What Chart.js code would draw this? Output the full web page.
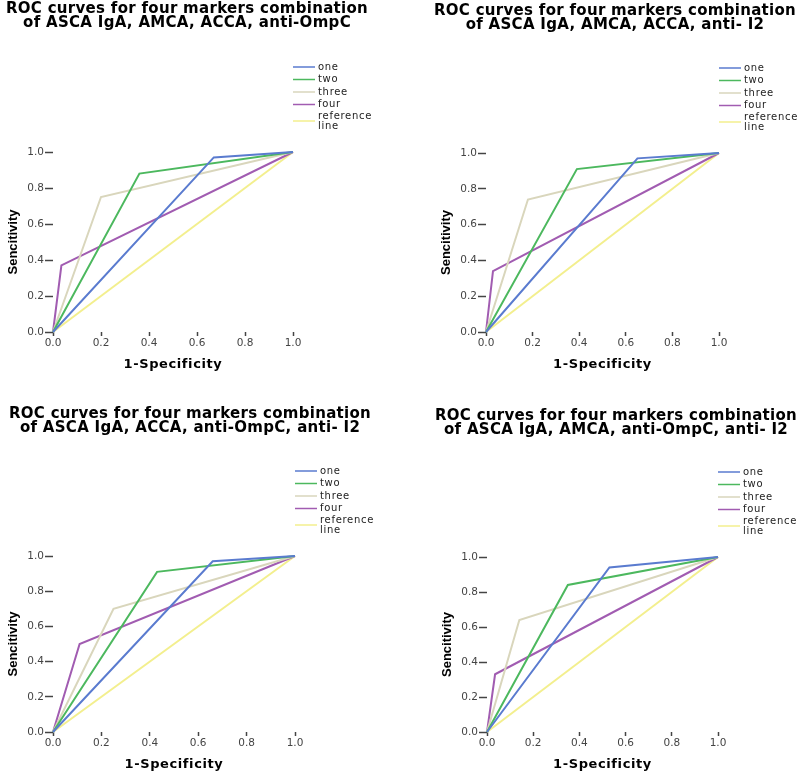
<!DOCTYPE html>
<html>
<head>
<meta charset="utf-8">
<script src="https://cdn.jsdelivr.net/npm/chart.js@4.4.1/dist/chart.umd.min.js"></script>
<style>
html,body{margin:0;padding:0;background:#fff;}
#wrap{position:relative;width:800px;height:775px;overflow:hidden;background:#fff;}
.panel{position:absolute;width:400px;height:387px;}
.panel canvas{display:block;}
</style>
</head>
<body>
<div id="wrap">
  <div class="panel" style="left:0;top:0"><canvas id="c0" width="400" height="387"></canvas></div>
  <div class="panel" style="left:400px;top:0"><canvas id="c1" width="400" height="387"></canvas></div>
  <div class="panel" style="left:0;top:388px"><canvas id="c2" width="400" height="387"></canvas></div>
  <div class="panel" style="left:400px;top:388px"><canvas id="c3" width="400" height="387"></canvas></div>
</div>
<script>
// ---------- data ----------
const seriesNames = ['one', 'two', 'three', 'four', 'reference line'];
const xAxisTitle = '1-Specificity';
const yAxisTitle = 'Sencitivity';
const tickValues = [0, 0.2, 0.4, 0.6, 0.8, 1.0];

const titleLine1 = 'ROC curves for four markers combination';
const panelSubtitles = [
  'of ASCA IgA, AMCA, ACCA, anti-OmpC',
  'of ASCA IgA, AMCA, ACCA, anti- I2',
  'of ASCA IgA, ACCA, anti-OmpC, anti- I2',
  'of ASCA IgA, AMCA, anti-OmpC, anti- I2'
];

// points as [1-Specificity, Sensitivity]
const p1One   = [[0, 0], [0.67, 0.97], [1, 1]];
const p1Two   = [[0, 0], [0.36, 0.88], [1, 1]];
const p1Three = [[0, 0], [0.20, 0.75], [1, 1]];
const p1Four  = [[0, 0], [0.035, 0.37], [1, 1]];

const p2One   = [[0, 0], [0.65, 0.97], [1, 1]];
const p2Two   = [[0, 0], [0.39, 0.91], [1, 1]];
const p2Three = [[0, 0], [0.18, 0.74], [1, 1]];
const p2Four  = [[0, 0], [0.03, 0.34], [1, 1]];

const p3One   = [[0, 0], [0.66, 0.97], [1, 1]];
const p3Two   = [[0, 0], [0.43, 0.91], [1, 1]];
const p3Three = [[0, 0], [0.25, 0.70], [1, 1]];
const p3Four  = [[0, 0], [0.11, 0.50], [1, 1]];

const p4One   = [[0, 0], [0.53, 0.94], [1, 1]];
const p4Two   = [[0, 0], [0.35, 0.84], [1, 1]];
const p4Three = [[0, 0], [0.14, 0.64], [1, 1]];
const p4Four  = [[0, 0], [0.035, 0.33], [1, 1]];

const referenceLine = [[0, 0], [1, 1]];

const panelSeries = [
  [p1One, p1Two, p1Three, p1Four, referenceLine],
  [p2One, p2Two, p2Three, p2Four, referenceLine],
  [p3One, p3Two, p3Three, p3Four, referenceLine],
  [p4One, p4Two, p4Three, p4Four, referenceLine]
];

// ---------- styles / layout ----------
const seriesColors = ['#5a7bcf', '#4cb85e', '#d9d6bc', '#a15cb1', '#f3ef8e'];
const panelLayout = [
  { padTop: 152, padRight: 107, yW: 53, xH: 55, titleX: 187, titleY: 9 },
  { padTop: 153, padRight: 81,  yW: 86, xH: 55, titleX: 215, titleY: 11 },
  { padTop: 168, padRight: 105, yW: 53, xH: 43, titleX: 190, titleY: 26.5 },
  { padTop: 169, padRight: 82,  yW: 87, xH: 43, titleX: 216, titleY: 28 }
];

const decorPlugin = {
  id: 'decor',
  afterDraw(chart) {
    const cfg = chart.options.plugins.decor;
    const ctx = chart.ctx;
    const a = chart.chartArea;
    ctx.save();
    // title
    ctx.fillStyle = '#000';
    ctx.textAlign = 'center';
    ctx.textBaseline = 'middle';
    ctx.font = 'bold 15px "DejaVu Sans"';
    try { ctx.letterSpacing = '0.3px'; } catch (e) {}
    cfg.title.forEach((t, i) => ctx.fillText(t, cfg.titleX, cfg.titleY + i * 14));
    // legend
    ctx.font = '10px "DejaVu Sans"';
    try { ctx.letterSpacing = '0.7px'; } catch (e) {}
    ctx.textAlign = 'left';
    ctx.fillStyle = '#222';
    chart.data.datasets.forEach((ds, i) => {
      const y = i < 4 ? a.top - 85 + i * 12.5 : a.top - 31;
      ctx.strokeStyle = ds.borderColor;
      ctx.lineWidth = 1.5;
      ctx.beginPath();
      ctx.moveTo(a.right, y);
      ctx.lineTo(a.right + 22, y);
      ctx.stroke();
      if (i < 4) {
        ctx.fillText(ds.label, a.right + 25, y);
      } else {
        const parts = ds.label.split(' ');
        ctx.fillText(parts[0], a.right + 25, a.top - 35.5);
        ctx.fillText(parts[1], a.right + 25, a.top - 26);
      }
    });
    // x-axis title
    ctx.fillStyle = '#000';
    ctx.textAlign = 'center';
    ctx.font = 'bold 13px "DejaVu Sans"';
    try { ctx.letterSpacing = '0.6px'; } catch (e) {}
    ctx.fillText(cfg.xTitle, (a.left + a.right) / 2, a.bottom + 32.5);
    // y-axis title
    try { ctx.letterSpacing = '0px'; } catch (e) {}
    ctx.font = 'bold 13px "Liberation Sans"';
    ctx.translate(a.left - 40, (a.top + a.bottom) / 2);
    ctx.rotate(-Math.PI / 2);
    ctx.fillText(cfg.yTitle, 0, 0);
    ctx.restore();
  }
};

const tickFont = { family: 'DejaVu Sans', size: 10.5 };

panelSeries.forEach((series, p) => {
  const L = panelLayout[p];
  const datasets = series.map((pts, i) => ({
    label: seriesNames[i],
    data: pts.map(([x, y]) => ({ x, y })),
    borderColor: seriesColors[i],
    backgroundColor: seriesColors[i],
    borderWidth: 2,
    pointRadius: 0,
    showLine: true,
    tension: 0,
    fill: false,
    clip: false
  }));
  new Chart(document.getElementById('c' + p), {
    type: 'scatter',
    data: { datasets },
    options: {
      responsive: false,
      animation: false,
      events: [],
      layout: { padding: { left: 0, top: L.padTop, right: L.padRight, bottom: 0 } },
      plugins: {
        legend: { display: false },
        tooltip: { enabled: false },
        title: { display: false },
        decor: {
          title: [titleLine1, panelSubtitles[p]],
          titleX: L.titleX, titleY: L.titleY,
          xTitle: xAxisTitle, yTitle: yAxisTitle
        }
      },
      scales: {
        x: {
          type: 'linear', min: 0, max: 1,
          afterBuildTicks: s => { s.ticks = tickValues.map(v => ({ value: v })); },
          afterFit: s => { s.height = L.xH; },
          ticks: { callback: v => Number(v).toFixed(1), maxRotation: 0, autoSkip: false, padding: 1, font: tickFont, color: '#444' },
          grid: { display: true, drawOnChartArea: false, drawTicks: true, tickLength: 4, tickColor: '#444', tickWidth: 1.5 },
          border: { display: false }
        },
        y: {
          type: 'linear', min: 0, max: 1,
          afterBuildTicks: s => { s.ticks = tickValues.map(v => ({ value: v })); },
          afterFit: s => { s.width = L.yW; },
          ticks: { callback: v => Number(v).toFixed(1), padding: 1, font: tickFont, color: '#444' },
          grid: { display: true, drawOnChartArea: false, drawTicks: true, tickLength: 8, tickColor: '#444', tickWidth: 1.5 },
          border: { display: false }
        }
      }
    },
    plugins: [decorPlugin]
  });
});
</script>
</body>
</html>
